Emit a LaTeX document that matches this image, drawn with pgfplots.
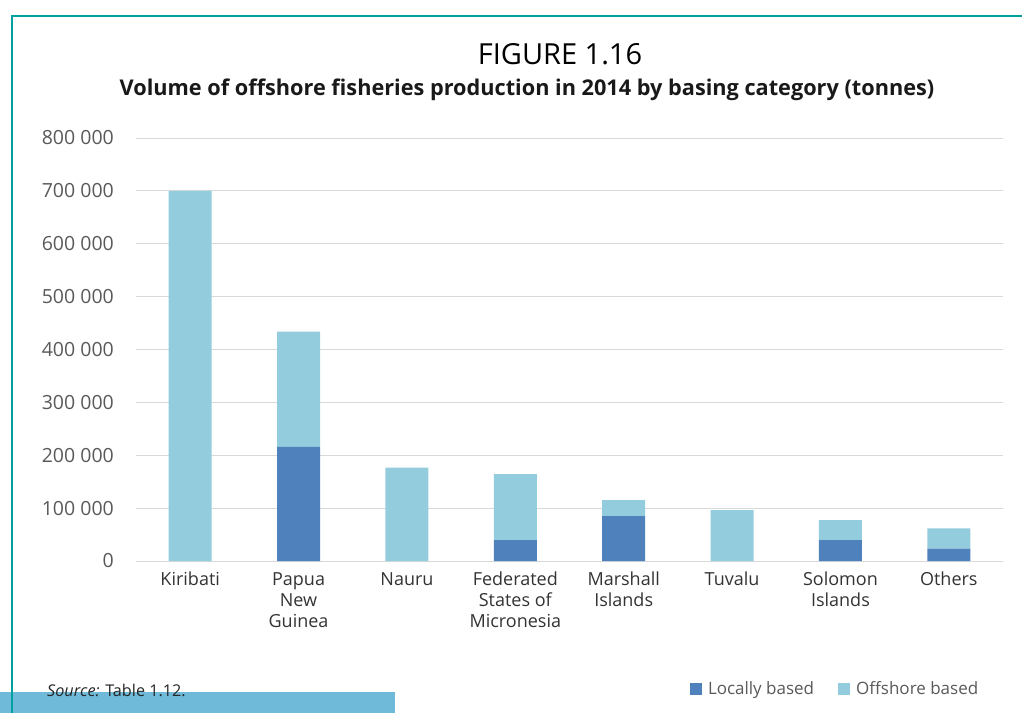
\documentclass[border=0pt]{standalone}
\usepackage{pgfplots}
\pgfplotsset{compat=1.18}
\usepackage{fontspec}
\setmainfont{Open Sans}
\definecolor{loc}{HTML}{4F81BD}
\definecolor{off}{HTML}{93CDDD}
\definecolor{framec}{HTML}{00A09E}
\definecolor{band}{HTML}{6FB9D9}
\definecolor{gridc}{HTML}{D9D9D9}
\definecolor{tickc}{HTML}{595959}
\definecolor{catc}{HTML}{333333}

\pgfplotstableread{
x local offshore
0 0 700000
1 216000 218000
2 0 176500
3 39700 124800
4 85000 30300
5 0 96400
6 39700 37800
7 23300 38500
}\datatable

\begin{document}
\begin{tikzpicture}[x=1pt,y=1pt]
\useasboundingbox (0,0) rectangle (1022,713);
\fill[band] (0,0) rectangle (395,21);
\draw[framec, line width=1.4pt] (12,0) -- (12,697) -- (1022,697);
\node[font=\fontsize{29}{33}\selectfont] at (560,713-54) {FIGURE 1.16};
\node[font=\fontsize{21.7}{26}\selectfont\bfseries, text=black!90] at (527,713-90) {Volume of offshore fisheries production in 2014 by basing category (tonnes)};
\node[anchor=base west, inner sep=0pt, font=\fontsize{16.2}{19}\selectfont, text=black!85] at (47,713-696) {\textit{Source:} Table 1.12.};
\begin{axis}[
  at={(136pt,152pt)}, anchor=south west,
  scale only axis, width=867pt, height=423pt,
  ymin=0, ymax=800000, xmin=-0.5, xmax=7.5,
  ybar stacked, bar width=43pt,
  axis line style={draw=none},
  major tick length=0pt,
  scaled y ticks=false,
  ymajorgrids, grid style={gridc, line width=1pt},
  ytick={0,100000,...,800000},
  yticklabels={0,100 000,200 000,300 000,400 000,500 000,600 000,700 000,800 000},
  yticklabel style={font=\fontsize{19.5}{23}\selectfont, text=tickc, inner sep=0pt, xshift=-22pt},
  xtick={0,...,7},
  xticklabels={Kiribati,{Papua\\New\\Guinea},Nauru,{Federated\\States of\\Micronesia},{Marshall\\Islands},Tuvalu,{Solomon\\Islands},Others},
  xticklabel style={font=\fontsize{18}{21}\selectfont, text=catc, inner sep=0pt, yshift=-11pt, align=center},
  legend style={at={(0.6353,-0.303)}, anchor=west, draw=none, fill=none, legend columns=2,
    font=\fontsize{17}{20}\selectfont, text=tickc,
    /tikz/every even column/.append style={column sep=22pt}},
  legend image code/.code={\fill[#1] (0pt,-6pt) rectangle (12pt,6pt); \path (16pt,0pt);},
]
\addplot[fill=loc, draw=none] table[x=x, y=local] {\datatable};
\addplot[fill=off, draw=none] table[x=x, y=offshore] {\datatable};
\legend{Locally based, Offshore based}
\end{axis}
\end{tikzpicture}
\end{document}
